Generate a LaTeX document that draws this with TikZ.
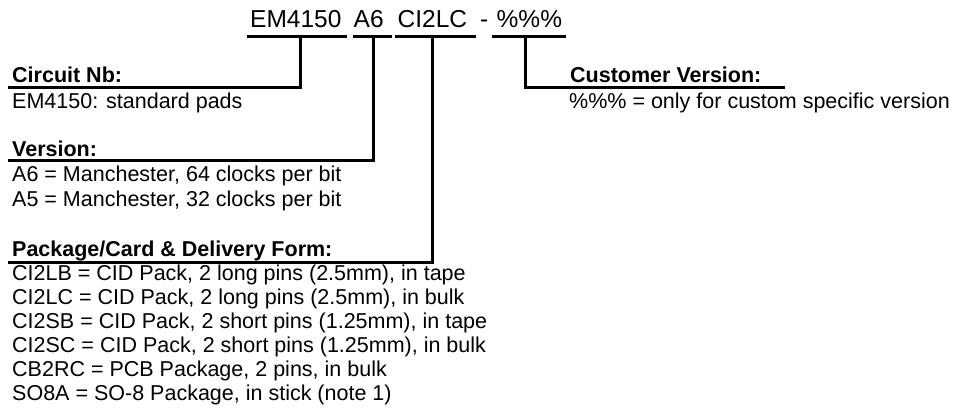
\documentclass[tikz,border=0pt]{standalone}
\usepackage{fontspec}
\setmainfont{Liberation Sans}
\begin{document}
\begin{tikzpicture}[x=1pt,y=-1pt,
  toptxt/.style={anchor=base west,inner sep=0pt,font=\fontsize{24.5}{28}\selectfont},
  bodytxt/.style={anchor=base west,inner sep=0pt,font=\fontsize{21.5}{24.5}\selectfont},
  headtxt/.style={bodytxt,font=\fontsize{21.5}{24.5}\selectfont\bfseries},
  rule/.style={line width=3pt,line join=miter,line cap=butt}]
\useasboundingbox (0,0) rectangle (953,412);
% top code
\node[toptxt] (em) at (250,28) {EM4150};
\node[toptxt] (a6) at (353.5,28) {A6};
\node[toptxt] (ci) at (397.5,28) {CI2LC};
\node[toptxt] (dash) at (480,28) {-};
\node[toptxt] (pc) at (496.5,28) {\%\%\%};
% underlines of the code
\coordinate (emL) at (247,37); \coordinate (emR) at (347,37); \coordinate (emM) at (300,37);
\coordinate (a6L) at (353,37); \coordinate (a6R) at (392,37); \coordinate (a6M) at (373,37);
\coordinate (ciL) at (395,37); \coordinate (ciR) at (476,37); \coordinate (ciM) at (432,37);
\coordinate (pcL) at (492,37); \coordinate (pcR) at (566,37); \coordinate (pcM) at (525,37);
\draw[rule] (emL) -- (emR);
\draw[rule] (a6L) -- (a6R);
\draw[rule] (ciL) -- (ciR);
\draw[rule] (pcL) -- (pcR);
% headings
\node[headtxt] (hcirc) at (12,82) {Circuit Nb:};
\node[bodytxt] (tcirc) at (12,108) {EM4150: standard pads};
\node[headtxt] (hver) at (12,156) {Version:};
\node[bodytxt] (tver1) at (12,181.5) {A6 = Manchester, 64 clocks per bit};
\node[bodytxt] (tver2) at (12,206) {A5 = Manchester, 32 clocks per bit};
\node[headtxt] (hpack) at (12,256) {Package/Card \& Delivery Form:};
\node[bodytxt] (tp1) at (12,280.5) {CI2LB = CID Pack, 2 long pins (2.5mm), in tape};
\node[bodytxt] (tp2) at (12,304.5) {CI2LC = CID Pack, 2 long pins (2.5mm), in bulk};
\node[bodytxt] (tp3) at (12,328.5) {CI2SB = CID Pack, 2 short pins (1.25mm), in tape};
\node[bodytxt] (tp4) at (12,352.5) {CI2SC = CID Pack, 2 short pins (1.25mm), in bulk};
\node[bodytxt] (tp5) at (12,376.5) {CB2RC = PCB Package, 2 pins, in bulk};
\node[bodytxt] (tp6) at (12,400.5) {SO8A = SO-8 Package, in stick (note 1)};
\node[headtxt] (hcust) at (570,82) {Customer Version:};
\node[bodytxt] (tcust) at (569,108) {\%\%\% = only for custom specific version};
% heading rule ends
\coordinate (circE) at (8,87);
\coordinate (verE) at (8,160);
\coordinate (packE) at (8,262);
\coordinate (custE) at (785,87);
% connectors
\draw[rule] (emM) |- (circE);
\draw[rule] (a6M) |- (verE);
\draw[rule] (ciM) |- (packE);
\draw[rule] (pcM) |- (custE);
\end{tikzpicture}
\end{document}
